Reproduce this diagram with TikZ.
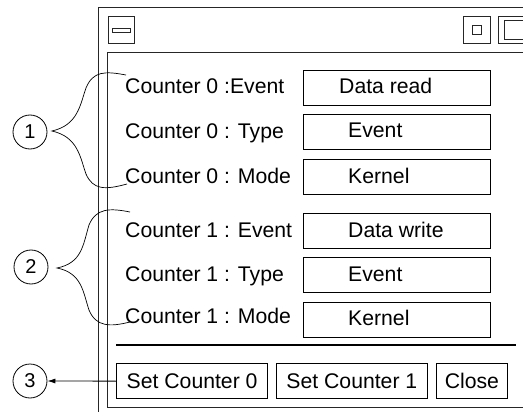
\documentclass[tikz,border=0pt]{standalone}
\usepackage{fontspec}
\setmainfont{Liberation Sans}
\usetikzlibrary{arrows.meta}
\begin{document}
\begin{tikzpicture}[x=1pt,y=-1pt,
  every node/.style={font=\fontsize{21.2}{25}\selectfont},
  frame/.style={draw=black!85,line width=0.9pt},
  lbl/.style={anchor=base west,inner sep=0pt},
  fieldbox/.style={draw,line width=0.8pt,minimum width=187pt,minimum height=35pt,anchor=north west,inner sep=0pt},
  btn/.style={draw,line width=0.8pt,minimum height=35pt,text height=15pt,text depth=0pt,inner sep=0pt,anchor=north west},
  callout/.style={draw,circle,line width=0.8pt,minimum size=34pt,inner sep=0pt,font=\fontsize{20}{24}\selectfont},
  bracecurve/.style={draw,line width=0.7pt}]
\useasboundingbox (0,0) rectangle (523,412);

% window frame
\draw[frame] (98,412) -- (98,7) -- (523,7);
\draw[frame] (523,52) -- (107,52) -- (107,407) -- (523,407);

% title bar buttons
\node[draw=black!85,line width=0.8pt,minimum width=26pt,minimum height=27pt,inner sep=0pt,anchor=north west] (menubtn) at (107.5,16.5) {};
\node[draw=black!85,line width=0.8pt,minimum width=18pt,minimum height=4.5pt,inner sep=0pt] (menubar) at (menubtn.center) {};
\node[draw=black!85,line width=0.8pt,minimum width=27pt,minimum height=27pt,inner sep=0pt,anchor=north west] (minbtn) at (463,16.5) {};
\node[draw=black!85,line width=0.8pt,minimum size=9pt,inner sep=0pt] (minsq) at (minbtn.center) {};
\draw[draw=black!85,line width=0.8pt] (525,16.5) -- (498,16.5) -- (498,43.5) -- (525,43.5);
\draw[draw=black!85,line width=0.8pt] (525,20) -- (504,20) -- (504,39) -- (525,39);

% counter 0 settings
\node[lbl] (l0e) at (125,94) {Counter 0 :Event};
\node[lbl] (l0t) at (125,139) {Counter 0 : Type};
\node[lbl] (l0m) at (125,183) {Counter 0 : Mode};
\node[fieldbox] (f0e) at (303,70) {};
\node[fieldbox] (f0t) at (303,114) {};
\node[fieldbox] (f0m) at (303,159) {};
\node[lbl] (v0e) at (339,94) {Data read};
\node[lbl] (v0t) at (348,138) {Event};
\node[lbl] (v0m) at (348,183) {Kernel};

% counter 1 settings
\node[lbl] (l1e) at (125,237) {Counter 1 : Event};
\node[lbl] (l1t) at (125,281) {Counter 1 : Type};
\node[lbl] (l1m) at (125,323) {Counter 1 : Mode};
\node[fieldbox] (f1e) at (303,213) {};
\node[fieldbox] (f1t) at (303,257) {};
\node[fieldbox] (f1m) at (303,301.5) {};
\node[lbl] (v1e) at (348,237) {Data write};
\node[lbl] (v1t) at (348,281) {Event};
\node[lbl] (v1m) at (348,325) {Kernel};

% separator
\draw[line width=1.1pt] (116,345) -- (516,345);

% buttons
\node[btn,line width=1.3pt,minimum width=151pt] (b0) at (116,363) {Set Counter 0};
\node[btn,minimum width=151pt] (b1) at (276,363) {Set Counter 1};
\node[btn,minimum width=71pt] (bc) at (436,363) {Close};

% callouts
\node[callout] (c1) at (30,132) {1};
\node[callout] (c2) at (31,267) {2};
\node[callout] (c3) at (30,381) {3};

% braces
\draw[bracecurve] (126,75) .. controls (105,71) and (93,71) .. (86,88)
  .. controls (80,105) and (78,125) .. (52,131)
  .. controls (78,137) and (80,157) .. (86,174)
  .. controls (93,190) and (105,190) .. (127,184);
\draw[bracecurve] (130,212) .. controls (110,208) and (96,208) .. (89,225)
  .. controls (83,245) and (82,263) .. (57,268)
  .. controls (82,273) and (83,292) .. (89,310)
  .. controls (96,327) and (110,327) .. (130,322);

% pointer to the default button
\draw[line width=0.8pt,-{Latex[length=8pt,width=5pt]}] (b0.west) -- (c3.east);
\end{tikzpicture}
\end{document}
